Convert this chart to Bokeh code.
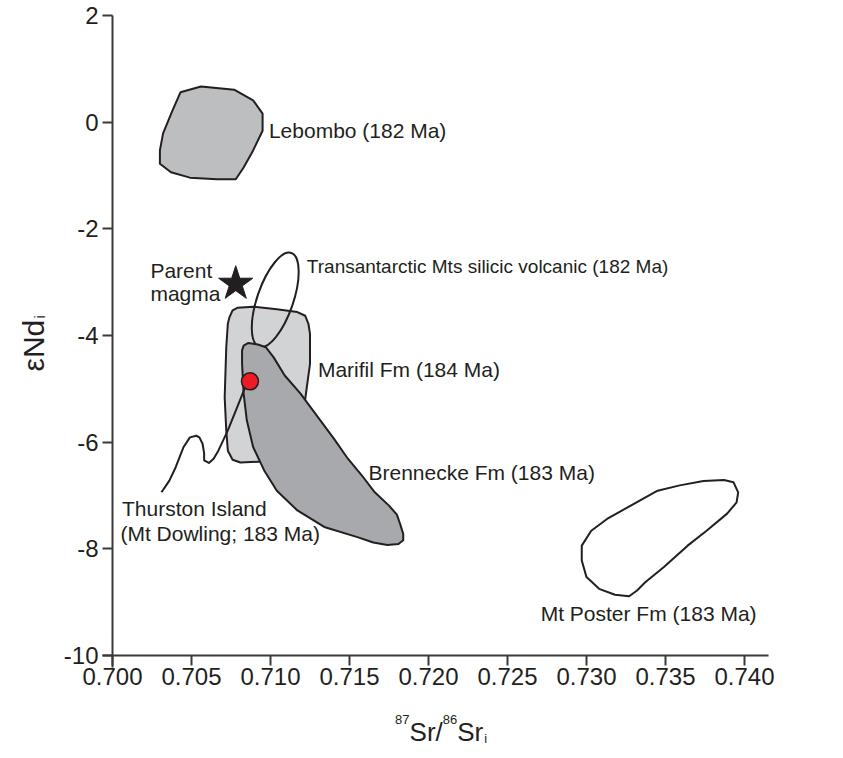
from bokeh.plotting import figure
from bokeh.models import Range1d, FixedTicker, NumeralTickFormatter, Label, LinearAxis
from bokeh.embed import file_html
from bokeh.resources import INLINE
import math

# ---------------- data ----------------
x_ticks = [0.700, 0.705, 0.710, 0.715, 0.720, 0.725, 0.730, 0.735, 0.740]
y_ticks = [2, 0, -2, -4, -6, -8, -10]

lebombo_x = [0.7043, 0.7056, 0.7077, 0.7089, 0.7095, 0.7095, 0.7089, 0.7083,
             0.7078, 0.7066, 0.7049, 0.7037, 0.7030, 0.7030, 0.7032, 0.7038]
lebombo_y = [0.56, 0.67, 0.61, 0.41, 0.16, -0.16, -0.53, -0.85,
             -1.07, -1.07, -1.04, -0.94, -0.78, -0.53, -0.21, 0.22]

marifil_x = [0.7073, 0.7074, 0.7076, 0.7079, 0.7089, 0.7104, 0.7117, 0.7122,
             0.7124, 0.7125, 0.7125, 0.7123, 0.7122, 0.7118, 0.7111, 0.7103,
             0.7098, 0.7081, 0.7076, 0.7073, 0.7072, 0.7071, 0.7072]
marifil_y = [-3.78, -3.66, -3.53, -3.48, -3.46, -3.51, -3.56, -3.63,
             -3.78, -3.97, -4.53, -4.97, -5.19, -5.78, -6.25, -6.36,
             -6.36, -6.38, -6.33, -6.16, -5.78, -5.16, -4.22]

brennecke_x = [0.7082, 0.7083, 0.7086, 0.7092, 0.7097, 0.7102, 0.7109, 0.7119,
               0.7130, 0.7140, 0.7149, 0.7158, 0.7166, 0.7175, 0.7180, 0.7182,
               0.7184, 0.7184, 0.7181, 0.7174, 0.7165, 0.7155, 0.7134, 0.7117,
               0.7104, 0.7096, 0.7089, 0.7085, 0.7083, 0.7082]
brennecke_y = [-4.28, -4.19, -4.14, -4.17, -4.22, -4.41, -4.75, -5.09,
               -5.53, -5.93, -6.31, -6.63, -6.94, -7.19, -7.36, -7.53,
               -7.72, -7.84, -7.91, -7.93, -7.88, -7.78, -7.59, -7.28,
               -6.91, -6.53, -6.09, -5.59, -5.09, -4.53]

# Transantarctic Mts silicic volcanic field (ellipse)
tam_x, tam_y = 0.7103, -3.33
tam_w, tam_h, tam_angle = 0.00228, 1.86, -19

thurston_x = [0.7087, 0.7084, 0.7079, 0.7073, 0.7067, 0.7064, 0.7061, 0.7058,
              0.7058, 0.7057, 0.7055, 0.7053, 0.7049, 0.7045, 0.7040, 0.7036, 0.7031]
thurston_y = [-4.86, -4.97, -5.34, -5.78, -6.16, -6.31, -6.39, -6.34,
              -6.21, -6.03, -5.91, -5.88, -5.91, -6.09, -6.47, -6.72, -6.94]

mtposter_x = [0.7374, 0.7387, 0.7393, 0.7396, 0.7395, 0.7389, 0.7376, 0.7364,
              0.7349, 0.7337, 0.7332, 0.7327, 0.7318, 0.7308, 0.7300, 0.7297,
              0.7297, 0.7303, 0.7313, 0.7328, 0.7345, 0.7359]
mtposter_y = [-6.73, -6.71, -6.75, -6.94, -7.13, -7.34, -7.66, -7.94,
              -8.34, -8.63, -8.78, -8.89, -8.86, -8.75, -8.53, -8.22,
              -7.94, -7.66, -7.44, -7.19, -6.91, -6.81]

sample_x, sample_y = [0.7087], [-4.86]      # red dot
parent_x, parent_y = [0.7078], [-3.03]      # star

# (text, x, y of baseline, font size)
labels = [
    ("Lebombo (182 Ma)", 0.7099, -0.15, "21px"),
    ("Transantarctic Mts silicic volcanic (182 Ma)", 0.7123, -2.70, "19px"),
    ("Parent", 0.7024, -2.79, "21px"),
    ("magma", 0.7024, -3.22, "21px"),
    ("Marifil Fm (184 Ma)", 0.7130, -4.64, "21px"),
    ("Brennecke Fm (183 Ma)", 0.7162, -6.56, "21px"),
    ("Thurston Island", 0.7006, -7.24, "21px"),
    ("(Mt Dowling; 183 Ma)", 0.7005, -7.71, "21px"),
    ("Mt Poster Fm (183 Ma)", 0.7271, -9.21, "21px"),
]

# ---------------- styling ----------------
INK = "#231f20"
AXIS = "#3a3a3a"
FONT = "Liberation Sans"

# the frame covers the whole canvas; the axes sit at fixed data locations
p = figure(width=843, height=758, output_backend="svg", toolbar_location=None,
           x_range=Range1d(0.6929114, 0.7462658), y_range=Range1d(-11.93125, 2.28125),
           x_axis_location=None, y_axis_location=None, min_border=0)
p.outline_line_color = None
p.grid.visible = False
p.background_fill_color = "white"
p.border_fill_color = "white"

xaxis = LinearAxis(fixed_location=-10, bounds=(0.69937, 0.7415),
                   ticker=FixedTicker(ticks=x_ticks),
                   formatter=NumeralTickFormatter(format="0.000"))
yaxis = LinearAxis(fixed_location=0.700, bounds=(-10.225, 2.0001),
                   ticker=FixedTicker(ticks=y_ticks),
                   formatter=NumeralTickFormatter(format="0"))
for ax in (xaxis, yaxis):
    ax.axis_line_color = AXIS
    ax.axis_line_width = 2
    ax.major_tick_line_color = AXIS
    ax.major_tick_line_width = 2
    ax.major_tick_out = 10
    ax.major_tick_in = 0
    ax.minor_tick_line_color = None
    ax.major_label_text_font = FONT
    ax.major_label_text_font_size = "24px"
    ax.major_label_text_color = INK
xaxis.major_label_standoff = 2
yaxis.major_label_standoff = 4
p.add_layout(xaxis, "below")
p.add_layout(yaxis, "left")

# ---------------- fields ----------------
p.patch(lebombo_x, lebombo_y, fill_color="#bcbec0", line_color=INK, line_width=2,
        line_join="round")
p.patch(marifil_x, marifil_y, fill_color="#d1d3d4", line_color=INK, line_width=2,
        line_join="round")
p.ellipse(x=[tam_x], y=[tam_y], width=[tam_w], height=[tam_h], angle=[tam_angle],
          angle_units="deg", fill_color=None, line_color=INK, line_width=2)
p.patch(brennecke_x, brennecke_y, fill_color="#a7a9ac", line_color=INK, line_width=2,
        line_join="round")
p.patch(mtposter_x, mtposter_y, fill_color=None, line_color=INK, line_width=2,
        line_join="round")
p.line(thurston_x, thurston_y, line_color=INK, line_width=2, line_join="round")
p.scatter(sample_x, sample_y, marker="circle", size=17, fill_color="#ed1c24",
          line_color=INK, line_width=1.5)
p.scatter(parent_x, parent_y, marker="star", size=36, fill_color=INK,
          line_color=INK, line_width=1)

def dlabel(text, x, y, size, angle=0.0, align="left"):
    p.add_layout(Label(x=x, y=y, text=text, text_font=FONT, text_font_size=size,
                       text_color=INK, text_align=align, text_baseline="alphabetic",
                       angle=angle))

for txt, lx, ly, fs in labels:
    dlabel(txt, lx, ly, fs)

# ---------------- axis titles ----------------
# y title: epsilon Nd with subscript i (rotated)
dlabel("\u03b5Nd", 0.69503, -4.19, "30px", angle=math.pi / 2, align="center")
dlabel("i", 0.69535, -3.68, "15px", angle=math.pi / 2)

# x title: 87Sr/86Sr with subscript i
dlabel("87", 0.71788, -11.191, "13px")
dlabel("Sr/", 0.71880, -11.434, "26px")
dlabel("86", 0.72090, -11.191, "13px")
dlabel("Sr", 0.72182, -11.434, "26px")
dlabel("i", 0.72353, -11.547, "13px")

open("out.html", "w").write(file_html(p, INLINE))
